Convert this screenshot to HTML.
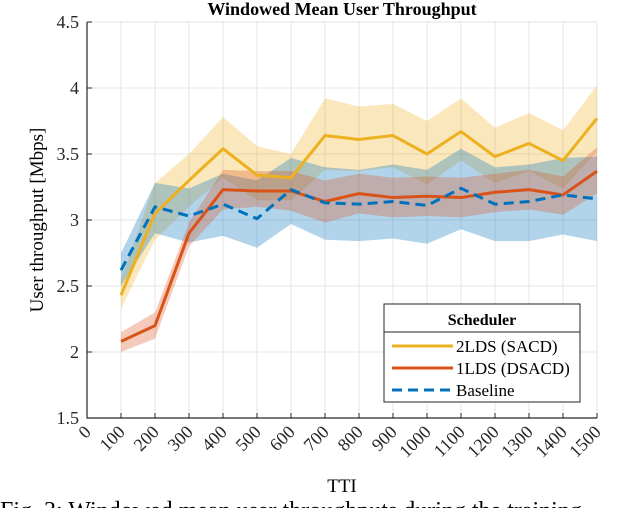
<!DOCTYPE html>
<html><head><meta charset="utf-8"><style>
body{margin:0;background:#fff;width:640px;height:508px;overflow:hidden}
svg{font-family:"Liberation Serif",serif}
</style></head><body>
<svg id="chart" width="640" height="508" viewBox="0 0 640 508" xmlns="http://www.w3.org/2000/svg">
<g id="grid"></g>
<g id="bands"></g>
<g id="lines"></g>
<g id="axes"></g>
<text x="342" y="15" text-anchor="middle" font-weight="bold" font-size="18">Windowed Mean User Throughput</text>
<text x="342" y="492" text-anchor="middle" font-size="19">TTI</text>
<text transform="translate(43,220) rotate(-90)" text-anchor="middle" font-size="19">User throughput [Mbps]</text>
<text x="0" y="518" font-size="24">Fig. 3: Windowed mean user throughputs during the training</text>
<g>
<rect x="384" y="304" width="196" height="98" fill="#fff" stroke="#262626" stroke-width="1"/>
<line x1="384" y1="332" x2="580" y2="332" stroke="#262626"/>
<text x="482" y="325" text-anchor="middle" font-weight="bold" font-size="16">Scheduler</text>
<line x1="392" y1="346" x2="453" y2="346" stroke="#EDB120" stroke-width="3"/>
<text x="456" y="352" font-size="17">2LDS (SACD)</text>
<line x1="392" y1="368" x2="453" y2="368" stroke="#D95319" stroke-width="3"/>
<text x="456" y="374" font-size="17">1LDS (DSACD)</text>
<line x1="392" y1="390" x2="453" y2="390" stroke="#0072BD" stroke-width="3" stroke-dasharray="10,6"/>
<text x="456" y="396" font-size="17">Baseline</text>
</g>
</svg>
<script>
const xCats=[100,200,300,400,500,600,700,800,900,1000,1100,1200,1300,1400,1500];
const xTicks=[0,100,200,300,400,500,600,700,800,900,1000,1100,1200,1300,1400,1500];
const yTicks=[1.5,2,2.5,3,3.5,4,4.5];
const sacd=[2.43,3.05,3.3,3.54,3.34,3.32,3.64,3.61,3.64,3.5,3.67,3.48,3.58,3.45,3.77];
const sacdHi=[2.55,3.28,3.5,3.78,3.56,3.5,3.92,3.86,3.88,3.75,3.92,3.7,3.81,3.68,4.02];
const sacdLo=[2.33,2.85,3.1,3.32,3.15,3.15,3.38,3.37,3.4,3.27,3.45,3.28,3.37,3.24,3.52];
const dsacd=[2.08,2.2,2.9,3.23,3.22,3.22,3.14,3.2,3.17,3.18,3.17,3.21,3.23,3.19,3.37];
const dsacdHi=[2.15,2.3,2.98,3.38,3.37,3.37,3.3,3.35,3.32,3.33,3.32,3.35,3.38,3.33,3.55];
const dsacdLo=[2.0,2.1,2.8,3.08,3.1,3.07,2.98,3.05,3.02,3.03,3.02,3.06,3.08,3.04,3.2];
const base=[2.62,3.1,3.03,3.12,3.01,3.23,3.13,3.12,3.14,3.11,3.24,3.12,3.14,3.19,3.16];
const baseHi=[2.75,3.28,3.24,3.35,3.3,3.47,3.4,3.38,3.42,3.38,3.54,3.4,3.42,3.47,3.48];
const baseLo=[2.5,2.9,2.83,2.88,2.79,2.97,2.85,2.84,2.86,2.82,2.93,2.84,2.84,2.89,2.84];

const X0=87,X1=597,Y0=418,Y1=22;
const xs=v=>X0+(v-0)/1500*(X1-X0);
const ys=v=>Y0-(v-1.5)/3*(Y0-Y1);
const NS="http://www.w3.org/2000/svg";
function mk(tag,parent,attrs){const e=document.createElementNS(NS,tag);for(const k in attrs)e.setAttribute(k,attrs[k]);parent.appendChild(e);return e;}
const grid=document.getElementById('grid'),axes=document.getElementById('axes'),bands=document.getElementById('bands'),lines=document.getElementById('lines');
xTicks.forEach(t=>{
  const g=mk('line',grid,{x1:xs(t),x2:xs(t),y1:Y1,y2:Y0,stroke:'#e4e4e4','stroke-width':1});
  
  
  const tk=mk('line',axes,{x1:xs(t),x2:xs(t),y1:Y0,y2:Y0-5,stroke:'#262626'});
  
  
  const lb=mk('text',axes,{transform:`translate(${xs(t)+5},${Y0+15}) rotate(-45)`,'text-anchor':'end','font-size':18,fill:'#262626'});
  lb.textContent=t;
  
  
});
yTicks.forEach(t=>{
  const g=mk('line',grid,{x1:X0,x2:X1,y1:ys(t),y2:ys(t),stroke:'#e4e4e4','stroke-width':1});
  
  
  const tk=mk('line',axes,{x1:X0,x2:X0+5,y1:ys(t),y2:ys(t),stroke:'#262626'});
  
  
  const lb=mk('text',axes,{x:X0-8,y:ys(t)+6,'text-anchor':'end','font-size':18,fill:'#262626'});
  lb.textContent=t;
  
  
});
const ax=mk('path',axes,{d:`M${X0},${Y1}V${Y0}H${X1}`,fill:'none',stroke:'#262626','stroke-width':1.2});


function band(hi,lo,col,name){
  let d='M'+xCats.map((c,i)=>xs(c)+','+ys(hi[i])).join('L');
  d+='L'+xCats.map((c,i)=>xs(c)+','+ys(lo[i])).reverse().join('L')+'Z';
  const p=mk('path',bands,{d:d,fill:col,'fill-opacity':0.3,stroke:'none'});
  
  
}
function line(vals,col,name,dash){
  const d='M'+xCats.map((c,i)=>xs(c)+','+ys(vals[i])).join('L');
  const p=mk('path',lines,{d:d,fill:'none',stroke:col,'stroke-width':3,'stroke-linejoin':'round'});
  if(dash)p.setAttribute('stroke-dasharray',dash);
  
  
}
band(sacdHi,sacdLo,'#EDB120','band-2lds');
band(baseHi,baseLo,'#0072BD','band-baseline');
band(dsacdHi,dsacdLo,'#D95319','band-1lds');
line(sacd,'#EDB120','line-2lds');
line(dsacd,'#D95319','line-1lds');
line(base,'#0072BD','line-baseline','10,6');
</script>
</body></html>
